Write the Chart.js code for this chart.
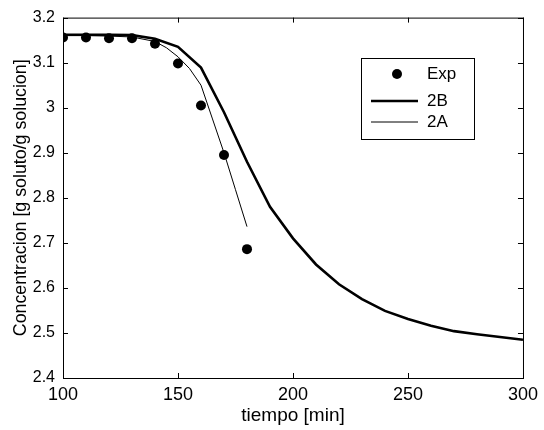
<!DOCTYPE html>
<html>
<head>
<meta charset="utf-8">
<script src="https://cdn.jsdelivr.net/npm/chart.js@4/dist/chart.umd.min.js"></script>
<style>
  html, body { margin: 0; padding: 0; background: #fff; }
  #wrap { width: 544px; height: 430px; }
</style>
</head>
<body>
<div id="wrap"><canvas id="c" width="544" height="430"></canvas></div>
<script>
// experimental points
const expT = [100, 110, 120, 130, 140, 150, 160, 170, 180];
const expC = [3.156, 3.156, 3.154, 3.154, 3.142, 3.098, 3.005, 2.895, 2.686];

// model 2B
const t2B = [100, 110, 120, 130, 140, 150, 160, 170, 180, 190, 200, 210, 220, 230, 240, 250, 260, 270, 280, 290, 300];
const c2B = [3.162, 3.162, 3.162, 3.161, 3.153, 3.135, 3.089, 2.99, 2.88, 2.78, 2.71, 2.652, 2.608, 2.575, 2.549, 2.531, 2.516, 2.504, 2.497, 2.491, 2.485];

// model 2A
const t2A = [100, 110, 120, 130, 140, 145, 150, 155, 160, 165, 170, 175, 180];
const c2A = [3.16, 3.16, 3.159, 3.157, 3.147, 3.133, 3.113, 3.087, 3.05, 2.975, 2.9, 2.818, 2.736];

const xTicks = [100, 150, 200, 250, 300];
const yTicks = [2.4, 2.5, 2.6, 2.7, 2.8, 2.9, 3.0, 3.1, 3.2];

const FONT = 'Liberation Sans, Arial, Helvetica, sans-serif';
const pts = (xs, ys) => xs.map((x, i) => ({ x, y: ys[i] }));

// box, inward ticks, legend (matlab look)
const frame = {
  id: 'frame',
  afterDatasetsDraw(chart) {
    const { ctx, chartArea: a, scales: { x, y } } = chart;
    ctx.save();
    ctx.strokeStyle = '#000';
    ctx.lineWidth = 1;
    ctx.strokeRect(a.left + 0.5, a.top + 0.5, a.right - a.left, a.bottom - a.top);
    ctx.beginPath();
    xTicks.forEach((v) => {
      const px = Math.round(x.getPixelForValue(v)) + 0.5;
      ctx.moveTo(px, a.bottom); ctx.lineTo(px, a.bottom - 5);
      ctx.moveTo(px, a.top); ctx.lineTo(px, a.top + 5);
    });
    yTicks.forEach((v) => {
      const py = Math.round(y.getPixelForValue(v)) + 0.5;
      ctx.moveTo(a.left, py); ctx.lineTo(a.left + 5, py);
      ctx.moveTo(a.right, py); ctx.lineTo(a.right - 5, py);
    });
    ctx.stroke();

    // legend
    const L = 361, T = 58, W = 113, H = 81;
    ctx.fillStyle = '#fff';
    ctx.fillRect(L, T, W, H);
    ctx.strokeRect(L + 0.5, T + 0.5, W, H);
    ctx.fillStyle = '#000';
    ctx.font = '17px ' + FONT;
    ctx.textBaseline = 'middle';
    const rows = [
      { label: 'Exp', y: T + 16 },
      { label: '2B', y: T + 43, w: 2.5 },
      { label: '2A', y: T + 64, w: 1 }
    ];
    rows.forEach((r, i) => {
      if (i === 0) {
        ctx.beginPath();
        ctx.arc(L + 36, r.y, 5, 0, Math.PI * 2);
        ctx.fill();
      } else {
        ctx.beginPath();
        ctx.lineWidth = r.w;
        ctx.moveTo(L + 10, r.y);
        ctx.lineTo(L + 57, r.y);
        ctx.stroke();
      }
      ctx.fillText(r.label, L + 66, r.y);
    });
    ctx.restore();
  }
};

new Chart(document.getElementById('c'), {
  type: 'scatter',
  data: {
    datasets: [
      { label: 'Exp', data: pts(expT, expC), showLine: false, pointRadius: 5, pointBackgroundColor: '#000', pointBorderWidth: 0, order: 0 },
      { label: '2B', data: pts(t2B, c2B), showLine: true, borderColor: '#000', borderWidth: 2.6, pointRadius: 0, tension: 0, order: 1 },
      { label: '2A', data: pts(t2A, c2A), showLine: true, borderColor: '#000', borderWidth: 1, pointRadius: 0, tension: 0, order: 2 }
    ]
  },
  options: {
    responsive: false,
    animation: false,
    layout: { padding: { top: 14, right: 17, left: 0, bottom: 0 } },
    plugins: { legend: { display: false }, tooltip: { enabled: false } },
    scales: {
      x: {
        type: 'linear', min: 100, max: 300,
        afterBuildTicks: (s) => { s.ticks = xTicks.map((v) => ({ value: v })); },
        afterFit: (s) => { s.height = 52; },
        grid: { display: false, drawTicks: false },
        border: { display: false },
        ticks: { color: '#000', padding: 6, maxRotation: 0, font: { family: FONT, size: 18 } },
        title: { display: true, text: 'tiempo [min]', color: '#000', padding: { top: 0, bottom: 3 }, font: { family: FONT, size: 19 } }
      },
      y: {
        type: 'linear', min: 2.4, max: 3.2,
        afterBuildTicks: (s) => { s.ticks = yTicks.map((v) => ({ value: v })); },
        afterFit: (s) => { s.width = 63; },
        grid: { display: false, drawTicks: false },
        border: { display: false },
        ticks: { color: '#000', padding: 8, font: { family: FONT, size: 16 }, callback: (v) => String(+Number(v).toFixed(1)) },
        title: { display: true, text: 'Concentracion [g soluto/g solucion]', color: '#000', padding: { top: 10, bottom: 0 }, font: { family: FONT, size: 17.8 } }
      }
    }
  },
  plugins: [frame]
});
</script>
</body>
</html>
